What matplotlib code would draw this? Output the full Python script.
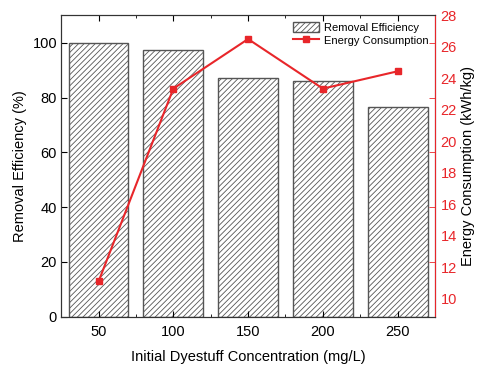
import matplotlib
matplotlib.use('Agg')
import matplotlib.pyplot as plt
from matplotlib.ticker import FixedLocator, MultipleLocator
import numpy as np

plt.rcParams['font.family'] = ['Liberation Sans', 'DejaVu Sans']
plt.rcParams['hatch.linewidth'] = 0.6
plt.rcParams['hatch.color'] = '#555555'

concentration = [50, 100, 150, 200, 250]
removal = [100.0, 97.4, 87.1, 86.1, 76.7]
energy = [11.1, 23.35, 26.5, 23.35, 24.45]

red = '#e8262a'

fig = plt.figure(figsize=(4.78, 3.67), dpi=100)
ax1 = fig.add_axes([0.128, 0.137, 0.782, 0.821])
ax2 = ax1.twinx()

ax1.bar(concentration, removal, width=40, color='white', edgecolor='#555555',
        linewidth=1.0, hatch='//////', label='Removal Efficiency')
ax1.set_xlim(25, 275)
ax1.set_ylim(0, 110)
ax1.set_xticks(concentration)
ax1.xaxis.set_minor_locator(MultipleLocator(25))
ax1.set_yticks([0, 20, 40, 60, 80, 100])
ax1.tick_params(axis='both', which='major', direction='in', length=4,
                labelsize=10.5, top=True, right=False)
ax1.tick_params(axis='x', which='minor', direction='in', length=2, top=True, bottom=True)
ax1.tick_params(axis='x', pad=6)
ax1.tick_params(axis='y', pad=3)
ax1.set_xlabel('Initial Dyestuff Concentration (mg/L)', fontsize=10.5, labelpad=8)
ax1.set_ylabel('Removal Efficiency (%)', fontsize=10.5, labelpad=4)

ax2.plot(concentration, energy, color=red, marker='s', markersize=5,
         linewidth=1.5, label='Energy Consumption')
lo, hi = 8.86, 28.0
ax2.set_ylim(lo, hi)
ax2.set_yticks(np.arange(10, 29, 2))
ax2.tick_params(axis='y', which='major', length=0, colors=red, labelsize=10.5, pad=4)
left_pos = np.array([20, 40, 60, 80, 100])
ax2.yaxis.set_minor_locator(FixedLocator(lo + left_pos / 110 * (hi - lo)))
ax2.tick_params(axis='y', which='minor', direction='in', length=4, color=red)
ax2.spines['right'].set_color(red)
ax2.set_ylabel('Energy Consumption (kWh/kg)', fontsize=10.5, labelpad=3)

for ax in (ax1, ax2):
    for s in ('left', 'bottom', 'top'):
        ax.spines[s].set_color('#333333')

h1, l1 = ax1.get_legend_handles_labels()
h2, l2 = ax2.get_legend_handles_labels()
ax2.legend(h1 + h2, l1 + l2, loc='upper right', frameon=False, fontsize=8,
           handlelength=2.4, handleheight=1.0, borderaxespad=0.2, labelspacing=0.2,
           handletextpad=0.4)

fig.savefig('out.png', dpi=100)
